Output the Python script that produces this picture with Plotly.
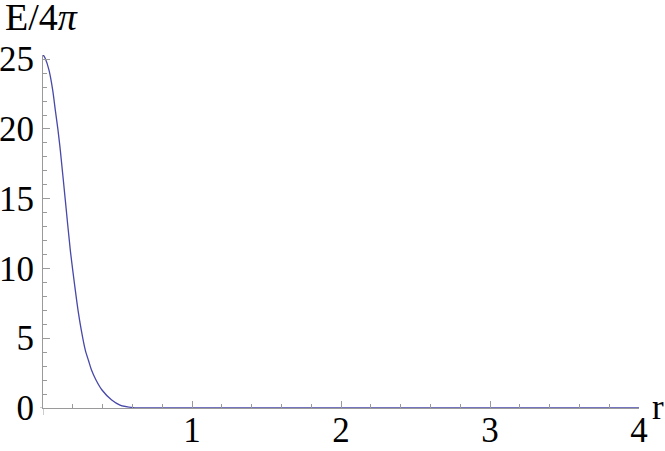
import plotly.graph_objects as go

r_vals = [0.0, 0.0154, 0.0403, 0.0651, 0.0826, 0.1007, 0.1161, 0.1497, 0.1832,
          0.2168, 0.2349, 0.2570, 0.2839, 0.3054, 0.3255, 0.3557, 0.3960, 0.4611,
          0.5168, 0.6040, 0.70, 0.80, 1.0, 2.0, 3.0, 4.0]
E_vals = [25.33, 25.05, 24.21, 22.78, 21.35, 19.91, 18.48, 14.90, 11.32,
          8.45, 7.02, 5.59, 4.15, 3.40, 2.72, 2.01, 1.29, 0.57,
          0.21, 0.03, 0.005, 0.0, 0.0, 0.0, 0.0, 0.0]

x_ticks = [1, 2, 3, 4]
y_ticks = [0, 5, 10, 15, 20, 25]

FONT = "Liberation Serif"
FS = 35
AXIS = "#9a9a9a"

L, R, T, B = 43, 26, 55, 43
PW, PH = 665 - L - R, 451 - T - B


def px_x(px):
    return (px - L) / PW


def px_y(py):
    return (451 - B - py) / PH


fig = go.Figure()
fig.add_trace(go.Scatter(x=r_vals, y=E_vals, mode="lines",
                         line=dict(color="#4848aa", width=1.3, shape="spline", smoothing=0.8),
                         hoverinfo="skip"))

fig.update_layout(
    width=665, height=451,
    margin=dict(l=L, r=R, t=T, b=B, autoexpand=False),
    paper_bgcolor="white", plot_bgcolor="white",
    showlegend=False,
    font=dict(family=FONT, size=FS, color="black"),
    xaxis=dict(range=[0, 4], tickvals=x_ticks, ticktext=[str(v) for v in x_ticks],
               automargin=False,
               showgrid=False, zeroline=False, showline=True, linecolor=AXIS, linewidth=1,
               ticks="inside", ticklen=7, tickcolor=AXIS, tickwidth=1,
               minor=dict(tick0=0, dtick=0.2, ticks="inside", ticklen=4, tickcolor=AXIS, showgrid=False),
               tickfont=dict(family=FONT, size=FS), ticklabelstandoff=-9),
    yaxis=dict(range=[0, 25.3], tickvals=y_ticks, ticktext=[str(v) for v in y_ticks],
               automargin=False,
               showgrid=False, zeroline=False, showline=True, linecolor=AXIS, linewidth=1,
               ticks="inside", ticklen=7, tickcolor=AXIS, tickwidth=1,
               minor=dict(tick0=0, dtick=1, ticks="inside", ticklen=4, tickcolor=AXIS, showgrid=False),
               tickfont=dict(family=FONT, size=FS), ticklabelstandoff=1),
    shapes=[
        dict(type="line", xref="x", yref="paper", x0=0, x1=0, y0=px_y(415), y1=0,
             line=dict(color=AXIS, width=1)),
        dict(type="line", xref="paper", yref="y", x0=px_x(40), x1=0, y0=0, y1=0,
             line=dict(color=AXIS, width=1)),
    ],
    annotations=[
        dict(text="E/4<i>π</i>", xref="paper", yref="paper", x=px_x(3), y=px_y(17),
             xanchor="left", yanchor="middle", showarrow=False,
             font=dict(family=FONT, size=38)),
        dict(text="r", xref="paper", yref="paper", x=px_x(666), y=px_y(407),
             xanchor="right", yanchor="middle", showarrow=False,
             font=dict(family=FONT, size=FS)),
    ],
)

fig.write_html("out.html", config={"displayModeBar": False},
               post_script="document.body.style.margin='0px';document.body.style.overflow='hidden';")
